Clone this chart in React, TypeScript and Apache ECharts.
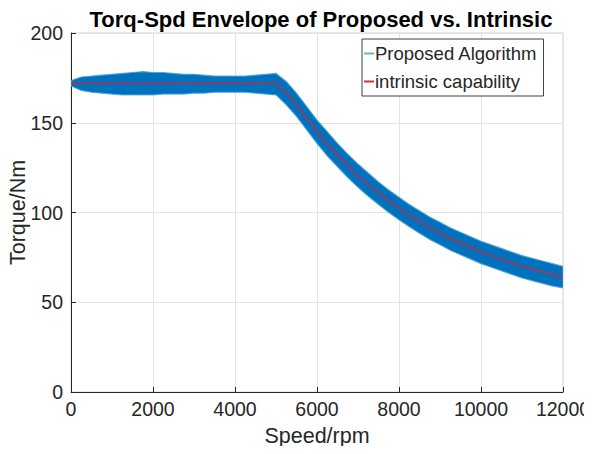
import React, { useEffect, useRef } from "react";
import * as echarts from "echarts";

const speed = [
  0, 250, 500, 750, 1000, 1250, 1500, 1750, 2000, 2250, 2500, 2750, 3000, 3250, 3500, 3750, 4000, 4250, 4500, 4750, 5000,
  5250, 5500, 5750, 6000, 6250, 6500, 6750, 7000, 7250, 7500, 7750, 8000, 8250, 8500, 8750, 9000, 9250, 9500, 9750, 10000,
  10250, 10500, 10750, 11000, 11250, 11500, 11750, 12000,
];

const intrinsic = [
  172, 172, 172, 172, 172, 172, 172, 172, 172, 172, 172, 172, 172, 172, 172, 172, 172, 172, 172, 172, 172,
  166.5, 160, 152.5, 145, 138, 132, 126, 120.5, 115.5, 111, 106.5, 102.5, 98.5, 95, 91.5, 88.5, 85.5, 83, 80.5, 78,
  76, 74, 72, 70, 68.5, 67, 65.5, 64,
];

const proposedUpper = [
  173.5, 175.5, 176, 176.5, 177, 177.5, 178, 178.5, 178, 178, 177.5, 177, 177, 176.5, 176, 176, 176, 176, 176.5, 177, 177.5,
  173, 166.5, 159, 151.5, 145, 138.5, 132.5, 127, 122, 117, 112.5, 108.5, 104.5, 101, 97.5, 94.5, 91.5, 89, 86.5, 84,
  82, 80, 78, 76, 74.5, 73, 71.5, 70,
];

const proposedLower = [
  170.5, 168, 167, 166.5, 166, 165.5, 165.5, 165.5, 165.5, 166, 166, 166, 166.5, 166.5, 167, 167, 167, 167, 166.5, 166, 165.5,
  160, 153.5, 146, 138.5, 131.5, 125.5, 119.5, 114, 109, 104.5, 100, 96, 92, 88.5, 85, 82, 79, 76.5, 74, 71.5,
  69.5, 67.5, 65.5, 63.5, 62, 60.5, 59, 58,
];

const xTicks = [0, 2000, 4000, 6000, 8000, 10000, 12000];
const yTicks = [0, 50, 100, 150, 200];

const FONT = "'Liberation Sans', Arial, Helvetica, sans-serif";
const TEXT = "#262626";

export default function App() {
  const ref = useRef<HTMLDivElement>(null);

  useEffect(() => {
    if (!ref.current) return;
    const chart = echarts.init(ref.current, null, { renderer: "svg" });

    const bandData = speed.map((s, i) => [s, proposedLower[i], proposedUpper[i]]);
    const redData = speed.map((s, i) => [s, intrinsic[i]]);

    const xMin = xTicks[0];
    const xMax = xTicks[xTicks.length - 1];
    const xInt = xTicks[1] - xTicks[0];
    const yMin = yTicks[0];
    const yMax = yTicks[yTicks.length - 1];
    const yInt = yTicks[1] - yTicks[0];

    const renderBand = (params: any, api: any) => {
      if (params.dataIndex !== 0) return null;
      const pts: number[][] = [];
      for (let i = 0; i < speed.length; i++) pts.push(api.coord([speed[i], proposedUpper[i]]));
      for (let i = speed.length - 1; i >= 0; i--) pts.push(api.coord([speed[i], proposedLower[i]]));
      return {
        type: "polygon",
        shape: { points: pts },
        style: { fill: "#0072BD", stroke: "rgba(70,160,215,0.8)", lineWidth: 1.2 },
      };
    };

    chart.setOption({
      animation: false,
      backgroundColor: "#ffffff",
      textStyle: { fontFamily: FONT },
      title: {
        text: "Torq-Spd Envelope of Proposed vs. Intrinsic",
        left: 316,
        textAlign: "center",
        top: 3,
        textStyle: { fontFamily: FONT, fontSize: 22, fontWeight: "bold", color: "#000000" },
      },
      grid: {
        left: 71,
        right: 29,
        top: 33,
        bottom: 62,
        containLabel: false,
        outerBoundsMode: "none",
        show: true,
        borderColor: "#d4d4d4",
        borderWidth: 1,
        backgroundColor: "transparent",
      },
      legend: {
        orient: "vertical",
        left: 362,
        top: 39,
        backgroundColor: "#ffffff",
        borderColor: "#404040",
        borderWidth: 1,
        padding: [5, 6, 5, 2],
        itemGap: 9,
        itemWidth: 10,
        itemHeight: 2,
        icon: "rect",
        textStyle: { fontFamily: FONT, fontSize: 18.5, color: TEXT, padding: [0, 0, 0, -4] },
        data: [
          { name: "Proposed Algorithm", itemStyle: { color: "#6fb0c4" } },
          { name: "intrinsic capability", itemStyle: { color: "#d0303f" } },
        ],
      },
      xAxis: {
        type: "value",
        min: xMin,
        max: xMax,
        interval: xInt,
        name: "Speed/rpm",
        nameLocation: "middle",
        nameGap: 33,
        nameMoveOverlap: false,
        nameTextStyle: { fontFamily: FONT, fontSize: 21.5, color: TEXT },
        axisLine: { show: true, lineStyle: { color: TEXT, width: 1 } },
        axisTick: { show: true, inside: true, length: 5, lineStyle: { color: TEXT } },
        axisLabel: { fontFamily: FONT, fontSize: 19.5, color: TEXT, margin: 7, formatter: (v: number) => String(v) },
        splitLine: { show: true, lineStyle: { color: "#e3e3e3", width: 1 } },
      },
      yAxis: {
        type: "value",
        position: "left",
        min: yMin,
        max: yMax,
        interval: yInt,
        name: "Torque/Nm",
        nameLocation: "middle",
        nameGap: 42,
        nameMoveOverlap: false,
        nameTextStyle: { fontFamily: FONT, fontSize: 21.5, color: TEXT },
        axisLine: { show: true, lineStyle: { color: TEXT, width: 1 } },
        axisTick: { show: true, inside: true, length: 5, lineStyle: { color: TEXT } },
        axisLabel: { fontFamily: FONT, fontSize: 19.5, color: TEXT, margin: 8, formatter: (v: number) => String(v) },
        splitLine: { show: true, lineStyle: { color: "#e3e3e3", width: 1 } },
      },
      series: [
        {
          name: "Proposed Algorithm",
          type: "custom",
          data: bandData,
          encode: { x: 0, y: [1, 2] },
          renderItem: renderBand,
          itemStyle: { color: "#0072BD" },
          clip: true,
          z: 3,
        },
        {
          name: "intrinsic capability",
          type: "line",
          data: redData,
          symbol: "none",
          color: "#d0303f",
          lineStyle: { width: 2, color: "rgba(215,35,55,0.65)" },
          z: 4,
        },
      ],
    });

    return () => chart.dispose();
  }, []);

  return <div ref={ref} style={{ width: 592, height: 454, margin: -8 }} />;
}
